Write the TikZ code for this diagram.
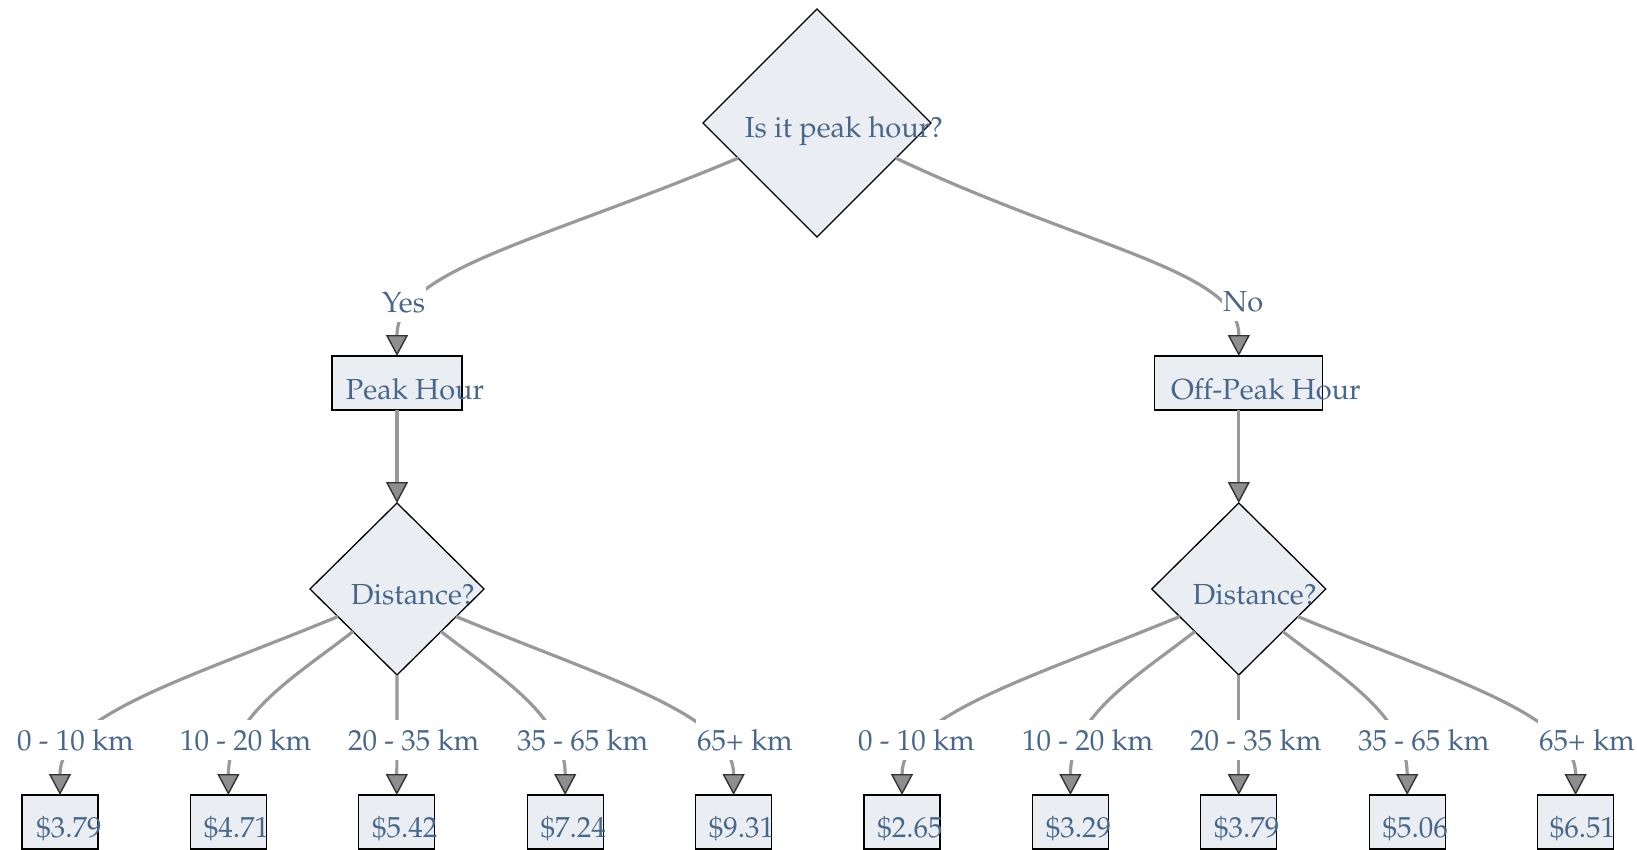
\documentclass[tikz,border=0pt]{standalone}
\usepackage[T1]{fontenc}
\usepackage{mathpazo}
\usetikzlibrary{arrows.meta,shapes.geometric}

\definecolor{nodefill}{HTML}{EAEEF2}
\definecolor{labeltext}{HTML}{47678C}
\definecolor{edgegray}{HTML}{999999}
\definecolor{tipgray}{HTML}{8E8E8E}
\definecolor{tipedge}{HTML}{333333}

\begin{document}
\begin{tikzpicture}[x=1pt,y=-1pt,
    txt/.style={font=\fontsize{29}{34}\selectfont,text=labeltext,anchor=base,yshift=-6pt,inner sep=0pt},
    decision/.style={diamond,aspect=1,draw,line width=1.3pt,fill=nodefill,inner sep=0pt,outer sep=0pt},
    box/.style={draw,line width=1.3pt,fill=nodefill,minimum height=54pt,inner sep=0pt,outer sep=0pt},
    price/.style={box,minimum width=76pt},
    flow/.style={draw=edgegray,line width=3.2pt,-{Triangle[width=22pt,length=21pt,line width=1.4pt,color=tipedge,fill=tipgray]}},
    note/.style={font=\fontsize{29}{34}\selectfont,text=labeltext,anchor=base west,fill=white,inner xsep=1pt,inner ysep=9pt}
]
\useasboundingbox (0,0) rectangle (1637,849);

\node[decision,minimum width=228pt,minimum height=228pt,label={[txt,xshift=27pt,yshift=-2pt]center:Is it peak hour?}] (rush) at (817,123) {};
\node[box,minimum width=130pt,label={[txt,xshift=18pt]center:Peak Hour}] (peakbox) at (397,383) {};
\node[box,minimum width=168pt,label={[txt,xshift=27pt]center:Off-Peak Hour}] (offbox) at (1238.8,383) {};
\node[decision,minimum width=174pt,minimum height=172pt,label={[txt,xshift=16pt]center:Distance?}] (distpeak) at (397,589) {};
\node[decision,minimum width=174pt,minimum height=172pt,label={[txt,xshift=16pt]center:Distance?}] (distoff) at (1238.8,589) {};

\node[price,label={[txt,xshift=9pt,yshift=-1pt]center:\$3.79}] (p1) at (60,822) {};
\node[price,label={[txt,xshift=8pt,yshift=-1pt]center:\$4.71}] (p2) at (228.4,822) {};
\node[price,label={[txt,xshift=8pt,yshift=-1pt]center:\$5.42}] (p3) at (396.8,822) {};
\node[price,label={[txt,xshift=8pt,yshift=-1pt]center:\$7.24}] (p4) at (565.2,822) {};
\node[price,label={[txt,xshift=8pt,yshift=-1pt]center:\$9.31}] (p5) at (733.6,822) {};
\node[price,label={[txt,xshift=8pt,yshift=-1pt]center:\$2.65}] (o1) at (902,822) {};
\node[price,label={[txt,xshift=8pt,yshift=-1pt]center:\$3.29}] (o2) at (1070.4,822) {};
\node[price,label={[txt,xshift=8pt,yshift=-1pt]center:\$3.79}] (o3) at (1238.8,822) {};
\node[price,label={[txt,xshift=8pt,yshift=-1pt]center:\$5.06}] (o4) at (1407.2,822) {};
\node[price,label={[txt,xshift=7pt,yshift=-1pt]center:\$6.51}] (o5) at (1575.6,822) {};

\draw[flow] (rush.204) .. controls +(-200,84) and +(0,-86) .. (peakbox.north);
\draw[flow] (rush.336) .. controls +(190,90) and +(0,-86) .. (offbox.north);
\draw[flow] (peakbox) -- (distpeak);
\draw[flow] (offbox) -- (distoff);

\draw[flow] (distpeak.205) .. controls +(-150,62) and +(0,-80) .. (p1.north);
\draw[flow] (distpeak.224) .. controls +(-55,43) and +(0,-80) .. (p2.north);
\draw[flow] (distpeak.south) -- (p3.north);
\draw[flow] (distpeak.316) .. controls +(55,43) and +(0,-80) .. (p4.north);
\draw[flow] (distpeak.335) .. controls +(150,62) and +(0,-80) .. (p5.north);

\draw[flow] (distoff.205) .. controls +(-150,62) and +(0,-80) .. (o1.north);
\draw[flow] (distoff.224) .. controls +(-55,43) and +(0,-80) .. (o2.north);
\draw[flow] (distoff.south) -- (o3.north);
\draw[flow] (distoff.316) .. controls +(55,43) and +(0,-80) .. (o4.north);
\draw[flow] (distoff.335) .. controls +(150,62) and +(0,-80) .. (o5.north);

\node[note] (yes) at (381,312) {Yes};
\node[note] (no) at (1222,311) {No};
\node[note] (dp1) at (16,750) {0 - 10 km};
\node[note] (dp2) at (179,750) {10 - 20 km};
\node[note] (dp3) at (347,750) {20 - 35 km};
\node[note] (dp4) at (516,750) {35 - 65 km};
\node[note] (dp5) at (696,750) {65+ km};
\node[note] (do1) at (857,750) {0 - 10 km};
\node[note] (do2) at (1021,750) {10 - 20 km};
\node[note] (do3) at (1189,750) {20 - 35 km};
\node[note] (do4) at (1357,750) {35 - 65 km};
\node[note] (do5) at (1538,750) {65+ km};
\end{tikzpicture}
\end{document}
